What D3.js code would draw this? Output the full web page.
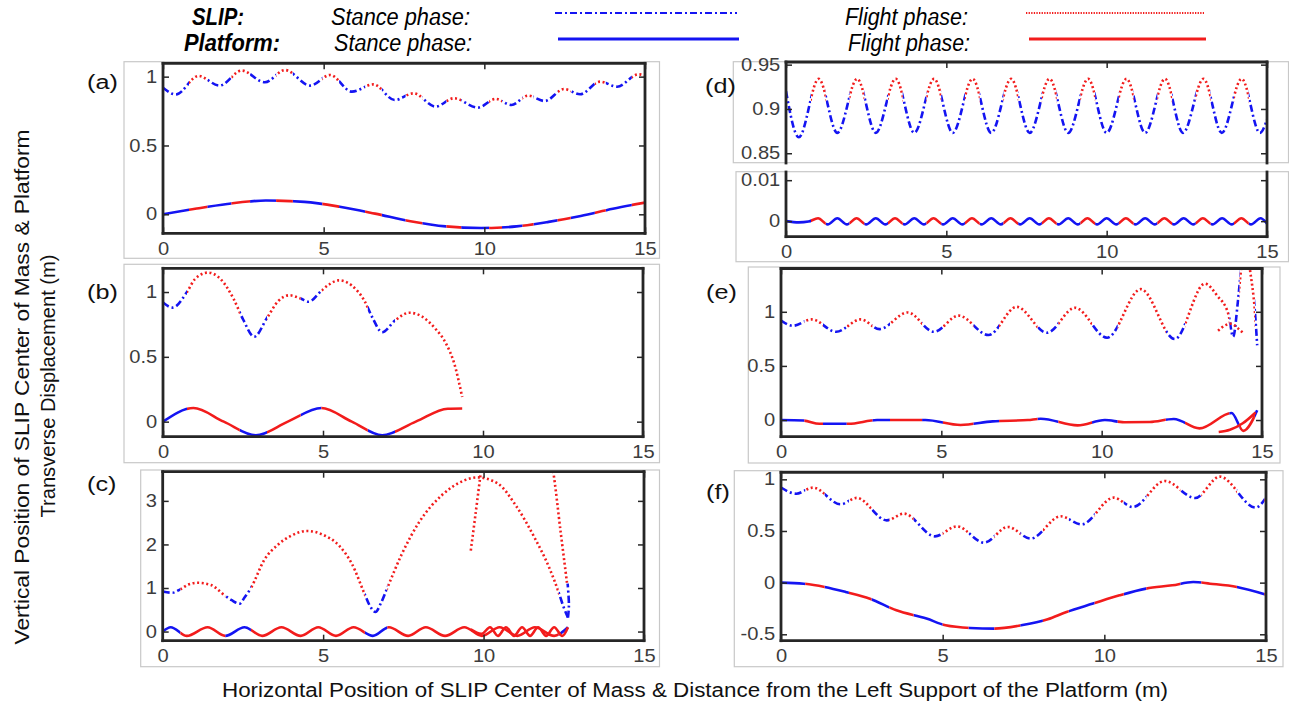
<!DOCTYPE html>
<html>
<head>
<meta charset="utf-8">
<script src="https://cdn.jsdelivr.net/npm/d3@7"></script>
<style>
  body { margin: 0; background: #fff; }
  svg { display: block; }
  text { font-family: "Liberation Sans", Arial, sans-serif; }
</style>
</head>
<body>
<script>
// SLIP vs platform, six simulation cases

const xTickVals = [0, 5, 10, 15]

// (a)
const slipA = [[0, 0.92], [0.4, 0.87], [1.1, 1.005], [1.76, 0.935], [2.45, 1.044], [3.17, 0.959], [3.8, 1.048], [4.58, 0.935], [5.2, 1.012], [5.88, 0.891], [6.55, 0.944], [7.21, 0.83], [7.8, 0.879], [8.48, 0.782], [9.05, 0.843], [9.8, 0.775], [10.35, 0.838], [10.84, 0.794], [11.36, 0.862], [11.88, 0.823], [12.48, 0.91], [12.98, 0.872], [13.6, 0.964], [14.13, 0.927], [14.8, 1.017], [15, 1.007]]
const platA = [[0, 0], [1, 0.04], [2, 0.075], [3.2, 0.1], [4.4, 0.09], [5.5, 0.055], [6.6, 0.005], [7.7, -0.05], [8.8, -0.088], [9.9, -0.1], [11, -0.088], [12, -0.055], [13, -0.012], [14, 0.04], [15, 0.085]]
const flightA = [[0.81, 1.38], [2.13, 2.71], [3.52, 4.04], [4.96, 5.48], [6.29, 6.81], [7.55, 8.07], [8.82, 9.28], [10.15, 10.55], [11.19, 11.53], [12.28, 12.69], [13.44, 13.78], [14.59, 15]]
const yTicksA = [0, 0.5, 1]

// (b)
const slipB = [[0, 0.92], [0.3, 0.88], [0.75, 1.0], [1.0, 1.1], [1.4, 1.15], [1.8, 1.1], [2.2, 0.95], [2.5, 0.79], [2.85, 0.655], [3.25, 0.8], [3.6, 0.93], [3.95, 0.975], [4.3, 0.95], [4.55, 0.925], [4.95, 1.01], [5.2, 1.06], [5.5, 1.09], [5.9, 1.05], [6.3, 0.93], [6.55, 0.8], [6.85, 0.69], [7.25, 0.78], [7.7, 0.84], [8.1, 0.81], [8.5, 0.72], [8.85, 0.6], [9.1, 0.45], [9.35, 0.19]]
const platB = [[0, 0], [0.95, 0.105], [1.9, 0.0], [2.9, -0.105], [3.9, 0.0], [4.95, 0.105], [5.9, 0.0], [6.85, -0.105], [7.9, 0.0], [8.9, 0.1], [9.35, 0.102]]
const flightB = [[0.75, 2.4], [3.25, 4.3], [4.95, 6.4], [7.25, 9.4]]
const yTicksB = [0, 0.5, 1]

// (c)
const slipC = [[0, 0.92], [0.3, 0.89], [0.55, 0.97], [0.8, 1.08], [1.1, 1.12], [1.5, 1.07], [1.95, 0.82], [2.15, 0.72], [2.4, 0.64], [2.55, 0.78], [2.75, 1.0], [3.17, 1.65], [3.6, 2.0], [4.0, 2.2], [4.5, 2.31], [5.0, 2.22], [5.5, 1.97], [5.9, 1.55], [6.3, 0.85], [6.45, 0.6], [6.63, 0.45], [6.8, 0.65], [7.0, 1.0], [7.44, 1.76], [8.0, 2.52], [8.7, 3.13], [9.4, 3.47], [9.8, 3.54], [10.44, 3.4], [11.0, 2.9], [11.6, 2.14], [12.05, 1.46], [12.34, 0.9], [12.5, 0.55], [12.63, 0.32]]
const slipCRebound = [[12.63, 0.32], [12.66, 0.6], [12.62, 1.1]]
const slipCFlightUp = [[12.6, 1.12], [12.4, 2.3], [12.17, 3.67], [12.1, 3.9]]
const slipCFlightDown = [[9.95, 3.9], [9.92, 3.7], [9.75, 2.7], [9.6, 1.85]]
const platC = [[0, 0], [0.25, 0.1], [0.75, -0.1], [1.4, 0.1], [1.95, -0.1], [2.55, 0.1], [3.1, -0.1], [3.7, 0.1], [4.3, -0.1], [4.85, 0.1], [5.4, -0.1], [5.95, 0.1], [6.55, -0.1], [7.05, 0.1], [7.65, -0.1], [8.2, 0.1], [8.8, -0.1], [9.4, 0.1], [9.95, -0.1], [10.5, 0.1], [11.05, -0.1], [11.6, 0.1], [12.2, -0.1], [12.63, 0.1]]
const platCBack = [[12.63, 0.1], [12.45, -0.1], [12.2, 0.1], [11.95, -0.1], [11.7, 0.1], [11.45, -0.1], [11.2, 0.1], [10.95, -0.1], [10.7, 0.1], [10.45, -0.1], [10.2, 0.1], [9.95, -0.05], [9.6, 0.05]]
const flightC = [[0.55, 1.95], [2.75, 6.3], [7.0, 12.34]]
const yTicksC = [0, 1, 2, 3]

// (d)
const slipD = [[0, 0.92], [0.4, 0.868], [1.02, 0.934], [1.6, 0.873], [2.22, 0.934], [2.8, 0.873], [3.42, 0.934], [4.0, 0.873], [4.62, 0.934], [5.2, 0.873], [5.82, 0.934], [6.4, 0.873], [7.02, 0.934], [7.6, 0.873], [8.22, 0.934], [8.8, 0.873], [9.42, 0.934], [10.0, 0.873], [10.62, 0.934], [11.2, 0.873], [11.82, 0.934], [12.38, 0.873], [13.02, 0.934], [13.59, 0.873], [14.21, 0.934], [14.78, 0.873], [15, 0.888]]
const platD = [[0, 0], [0.4, -0.0003], [0.7, -0.0001], [1.0, 0.0007], [1.3, -0.0008], [1.6, 0.0007], [1.9, -0.0008], [2.2, 0.0007], [2.5, -0.0008], [2.8, 0.0007], [3.1, -0.0008], [3.4, 0.0007], [3.7, -0.0008], [4.0, 0.0007], [4.3, -0.0008], [4.6, 0.0007], [4.9, -0.0008], [5.2, 0.0007], [5.5, -0.0008], [5.8, 0.0007], [6.1, -0.0008], [6.4, 0.0007], [6.7, -0.0008], [7.0, 0.0007], [7.3, -0.0008], [7.6, 0.0007], [7.9, -0.0008], [8.2, 0.0007], [8.5, -0.0008], [8.8, 0.0007], [9.1, -0.0008], [9.4, 0.0007], [9.7, -0.0008], [10.0, 0.0007], [10.3, -0.0008], [10.6, 0.0007], [10.9, -0.0008], [11.2, 0.0007], [11.5, -0.0008], [11.8, 0.0007], [12.1, -0.0008], [12.4, 0.0007], [12.7, -0.0008], [13.0, 0.0007], [13.3, -0.0008], [13.6, 0.0007], [13.9, -0.0008], [14.2, 0.0007], [14.5, -0.0008], [14.8, 0.0007], [15, -0.0006]]
const flightD = [[0.78, 1.24], [1.98, 2.44], [3.18, 3.64], [4.38, 4.84], [5.58, 6.04], [6.78, 7.24], [7.98, 8.44], [9.18, 9.64], [10.38, 10.84], [11.58, 12.04], [12.78, 13.24], [13.97, 14.43]]
const yTicksDUp = [0.85, 0.9, 0.95]
const yTicksDLow = [0, 0.01]

// (e)
const slipE = [[0, 0.92], [0.37, 0.871], [0.96, 0.93], [1.72, 0.815], [2.49, 0.93], [3.07, 0.84], [3.95, 0.994], [4.77, 0.815], [5.54, 0.965], [6.47, 0.785], [7.35, 1.046], [8.29, 0.806], [9.17, 1.037], [10.17, 0.76], [11.22, 1.209], [12.28, 0.748], [13.22, 1.26], [13.6, 1.15], [13.95, 0.98], [14.1, 0.77], [14.25, 1.1], [14.35, 1.4], [14.48, 1.7], [14.62, 1.4], [14.78, 1.0], [14.85, 0.69]]
const slipEBranch = [[13.63, 0.825], [13.85, 0.875], [14.04, 0.89], [14.2, 0.86], [14.39, 0.81]]
const platE = [[0, 0], [0.7, -0.005], [1.2, -0.035], [2.1, -0.035], [3.0, 0], [4.5, 0], [5.6, -0.046], [6.6, -0.012], [7.7, 0.0], [8.1, 0.012], [9.25, -0.049], [10.1, 0.0], [10.7, -0.02], [11.5, -0.018], [12.25, 0.01], [13.05, -0.077], [14.05, 0.065], [14.42, -0.1], [14.85, 0.09]]
const platEBranch = [[13.65, -0.11], [14.0, -0.09], [14.4, -0.03], [14.8, 0.07]]
const flightE = [[0.73, 1.31], [2.05, 2.85], [3.4, 4.4], [5.05, 6.0], [6.8, 8.0], [8.65, 9.7], [10.5, 12.0], [12.6, 13.98], [14.3, 14.78]]
const yTicksE = [0, 0.5, 1]

// (f)
const slipF = [[0, 0.92], [0.47, 0.861], [0.99, 0.92], [1.84, 0.758], [2.34, 0.82], [3.27, 0.603], [3.8, 0.668], [4.76, 0.448], [5.44, 0.545], [6.28, 0.387], [7.02, 0.539], [7.72, 0.426], [8.65, 0.642], [9.3, 0.564], [10.29, 0.823], [10.88, 0.732], [11.87, 0.984], [12.81, 0.819], [13.57, 1.026], [14.68, 0.726], [15, 0.823]]
const platF = [[0, 0], [0.7, -0.01], [1.35, -0.042], [2.0, -0.09], [2.75, -0.155], [3.57, -0.268], [4.5, -0.348], [5.09, -0.413], [5.85, -0.439], [6.6, -0.445], [7.43, -0.413], [8.25, -0.355], [8.83, -0.284], [9.65, -0.203], [10.47, -0.123], [11.29, -0.058], [12.1, -0.026], [12.75, 0.006], [13.27, -0.01], [14.1, -0.042], [15, -0.116]]
const flightF = [[0.75, 1.35], [2.1, 2.8], [3.35, 4.1], [5.0, 5.8], [6.6, 7.4], [8.1, 8.9], [9.7, 10.6], [11.3, 12.35], [13.0, 14.1], [14.95, 15]]
const yTicksF = [-0.5, 0, 0.5, 1]

// ---------------------------------------------------------------

const W = 1289, H = 707
const BLUE = '#1414f2', RED = '#f21c1c', AXIS = '#262626'

const svg = d3.select('body').append('svg').attr('width', W).attr('height', H)
const defs = svg.append('defs')

const lineStyle = {
  slip_s: { stroke: BLUE, dash: '7,3,2,3' },
  slip_f: { stroke: RED, dash: '2,2.6' },
  plat_s: { stroke: BLUE, dash: null },
  plat_f: { stroke: RED, dash: null }
}

// panels: outer crop box, axes frame [x0, x1, y0, y1]
const panels = [
  { label: '(a)', labelAt: [87, 82], box: [124, 61.7, 659.5, 258.3], frame: [163, 645, 63.3, 233.3],
    yDomain: [-0.138, 1.097], yTicks: yTicksA, sides: 'tblr', xLabels: true,
    traces: [{ kind: 'slip', pts: slipA, flight: flightA }, { kind: 'plat', pts: platA, flight: flightA }] },
  { label: '(b)', labelAt: [87, 292], box: [124, 264.3, 659.5, 462.7], frame: [163, 643, 268.3, 436.7],
    yDomain: [-0.116, 1.183], yTicks: yTicksB, sides: 'tblr', xLabels: true,
    traces: [{ kind: 'slip', pts: slipB, flight: flightB }, { kind: 'plat', pts: platB, flight: flightB }] },
  { label: '(c)', labelAt: [87, 484], box: [140.7, 470, 659.5, 666.7], frame: [162.7, 644, 471.7, 640.7],
    yDomain: [-0.21, 3.67], yTicks: yTicksC, sides: 'tblr', xLabels: true,
    traces: [
      { kind: 'slip', pts: slipC, flight: flightC },
      { kind: 'slip', pts: slipCRebound, phase: 's' },
      { kind: 'slip', pts: slipCFlightUp, phase: 'f' },
      { kind: 'slip', pts: slipCFlightDown, phase: 'f' },
      { kind: 'plat', pts: platC, flight: flightC },
      { kind: 'plat', pts: platCBack, phase: 'f' }
    ] },
  { label: '(d)', labelAt: [705, 86], box: [733.3, 61.7, 1288.5, 162.7], frame: [786, 1267, 62, 163],
    yDomain: [0.839, 0.953], yTicks: yTicksDUp, sides: 'tlr', xLabels: false,
    traces: [{ kind: 'slip', pts: slipD, flight: flightD }] },
  { label: '', labelAt: [0, 0], box: [736, 171.7, 1288.5, 261.7], frame: [786, 1267, 172, 236.7],
    yDomain: [-0.0038, 0.012], yTicks: yTicksDLow, sides: 'blr', xLabels: true,
    traces: [{ kind: 'plat', pts: platD, flight: flightD }] },
  { label: '(e)', labelAt: [706, 292], box: [748.3, 267, 1280, 463], frame: [781, 1262, 268.5, 436.7],
    yDomain: [-0.154, 1.4], yTicks: yTicksE, sides: 'tblr', xLabels: true,
    traces: [
      { kind: 'slip', pts: slipE, flight: flightE },
      { kind: 'slip', pts: slipEBranch, phase: 'f' },
      { kind: 'plat', pts: platE, flight: flightE },
      { kind: 'plat', pts: platEBranch, phase: 'f' }
    ] },
  { label: '(f)', labelAt: [706, 492], box: [734.3, 470.7, 1283, 666.7], frame: [781, 1266, 472.3, 640.7],
    yDomain: [-0.562, 1.068], yTicks: yTicksF, sides: 'tblr', xLabels: true,
    traces: [{ kind: 'slip', pts: slipF, flight: flightF }, { kind: 'plat', pts: platF, flight: flightF }] }
]

// stance = everything that is not flight
function stanceOf(flight) {
  const out = []
  let s = -1
  flight.forEach(([a, b]) => { out.push([s, a]); s = b })
  out.push([s, 16])
  return out
}

function styleTicks(sel, showLabels) {
  sel.select('.domain').remove()
  sel.selectAll('line').attr('stroke', AXIS).attr('stroke-width', 1.5)
  if (showLabels) {
    sel.selectAll('text')
      .attr('font-size', 17.5)
      .attr('fill', '#3c3c3c')
      .attr('font-family', '"Liberation Sans", Arial, sans-serif')
      .attr('transform', 'scale(1.15,1)')
  } else {
    sel.selectAll('text').remove()
  }
}

panels.forEach((p, pi) => {
  const [fx0, fx1, fy0, fy1] = p.frame
  const xs = d3.scaleLinear().domain([0, 15]).range([fx0, fx1])
  const ys = d3.scaleLinear().domain(p.yDomain).range([fy1, fy0])
  const g = svg.append('g')

  // light crop box around each panel
  g.append('rect')
    .attr('x', p.box[0]).attr('y', p.box[1])
    .attr('width', p.box[2] - p.box[0]).attr('height', p.box[3] - p.box[1])
    .attr('fill', 'none').attr('stroke', '#c8c8c8').attr('stroke-width', 1.2)

  const cid = 'plotclip' + pi
  defs.append('clipPath').attr('id', cid).append('rect')
    .attr('x', fx0).attr('y', fy0).attr('width', fx1 - fx0).attr('height', fy1 - fy0)
  const plot = g.append('g').attr('clip-path', 'url(#' + cid + ')')

  p.traces.forEach((tr, ti) => {
    const increasing = tr.pts.every((d, i) => i === 0 || d[0] > tr.pts[i - 1][0])
    const line = d3.line()
      .x(d => xs(d[0]))
      .y(d => ys(d[1]))
      .curve(increasing ? d3.curveMonotoneX : d3.curveCatmullRom.alpha(0.5))
    const path = line(tr.pts)
    const parts = tr.phase ? [[tr.phase, null]] : [['s', stanceOf(tr.flight)], ['f', tr.flight]]
    parts.forEach(([ph, iv]) => {
      let host = plot
      if (iv) {
        const id = 'ph' + pi + '_' + ti + '_' + ph
        const cp = defs.append('clipPath').attr('id', id)
        iv.forEach(([a, b]) => {
          cp.append('rect').attr('x', xs(a)).attr('y', 0).attr('width', xs(b) - xs(a)).attr('height', H)
        })
        host = plot.append('g').attr('clip-path', 'url(#' + id + ')')
      }
      const st = lineStyle[tr.kind + '_' + ph]
      host.append('path')
        .attr('d', path)
        .attr('fill', 'none')
        .attr('stroke', st.stroke)
        .attr('stroke-width', 2.6)
        .attr('stroke-dasharray', st.dash)
    })
  })

  // axes: ticks pointing inwards on every drawn side
  g.append('g').attr('transform', 'translate(' + fx0 + ',0)')
    .call(d3.axisLeft(ys).tickValues(p.yTicks).tickSize(-6).tickPadding(5).tickFormat(d => d))
    .call(s => styleTicks(s, true))
  g.append('g').attr('transform', 'translate(' + fx1 + ',0)')
    .call(d3.axisRight(ys).tickValues(p.yTicks).tickSize(-6))
    .call(s => styleTicks(s, false))
  if (p.sides.includes('b')) {
    g.append('g').attr('transform', 'translate(0,' + fy1 + ')')
      .call(d3.axisBottom(xs).tickValues(xTickVals).tickSize(-6).tickPadding(9).tickFormat(d => d))
      .call(s => styleTicks(s, p.xLabels))
  }
  if (p.sides.includes('t')) {
    g.append('g').attr('transform', 'translate(0,' + fy0 + ')')
      .call(d3.axisTop(xs).tickValues(xTickVals).tickSize(-6))
      .call(s => styleTicks(s, false))
  }

  // frame
  const edges = {
    t: [fx0, fy0, fx1, fy0], b: [fx0, fy1, fx1, fy1],
    l: [fx0, fy0, fx0, fy1], r: [fx1, fy0, fx1, fy1]
  }
  p.sides.split('').forEach(k => {
    const e = edges[k]
    g.append('line')
      .attr('x1', e[0]).attr('y1', e[1]).attr('x2', e[2]).attr('y2', e[3])
      .attr('stroke', AXIS).attr('stroke-width', 2.8).attr('stroke-linecap', 'square')
  })

  if (p.label) {
    g.append('text')
      .attr('transform', 'translate(' + p.labelAt[0] + ',' + p.labelAt[1] + ') scale(1.2,1)')
      .attr('dy', '0.35em')
      .attr('font-size', 21)
      .attr('fill', '#111')
      .text(p.label)
  }
})

// axis titles
svg.append('text')
  .attr('x', 222).attr('y', 697)
  .attr('font-size', 19.5).attr('fill', '#111')
  .attr('textLength', 946).attr('lengthAdjust', 'spacingAndGlyphs')
  .text('Horizontal Position of SLIP Center of Mass & Distance from the Left Support of the Platform (m)')

svg.append('text')
  .attr('transform', 'translate(22,387) rotate(-90)')
  .attr('text-anchor', 'middle').attr('dy', '0.35em')
  .attr('font-size', 19.5).attr('fill', '#111')
  .attr('textLength', 515).attr('lengthAdjust', 'spacingAndGlyphs')
  .text('Vertical Position of SLIP Center of Mass &  Platform')

svg.append('text')
  .attr('transform', 'translate(48,386) rotate(-90)')
  .attr('text-anchor', 'middle').attr('dy', '0.35em')
  .attr('font-size', 19.5).attr('fill', '#111')
  .attr('textLength', 263).attr('lengthAdjust', 'spacingAndGlyphs')
  .text('Transverse Displacement (m)')

// legend
const legendTexts = [
  { t: 'SLIP:', x: 192, y: 25, w: 52, bold: true },
  { t: 'Platform:', x: 184, y: 51, w: 96, bold: true },
  { t: 'Stance phase:', x: 331, y: 25, w: 139 },
  { t: 'Stance phase:', x: 334, y: 51, w: 138 },
  { t: 'Flight phase:', x: 845, y: 25, w: 123 },
  { t: 'Flight phase:', x: 848, y: 51, w: 122 }
]
legendTexts.forEach(d => {
  svg.append('text')
    .attr('x', d.x).attr('y', d.y)
    .attr('font-size', 23)
    .attr('font-style', 'italic')
    .attr('font-weight', d.bold ? 'bold' : 'normal')
    .attr('fill', '#000')
    .attr('textLength', d.w).attr('lengthAdjust', 'spacingAndGlyphs')
    .text(d.t)
})
const legendLines = [
  { x1: 555, x2: 737, y: 13, stroke: BLUE, dash: '7,3,2,3', w: 2 },
  { x1: 558, x2: 739, y: 39, stroke: BLUE, dash: null, w: 3 },
  { x1: 1026, x2: 1204, y: 13, stroke: RED, dash: '1.3,1.3', w: 2 },
  { x1: 1029, x2: 1206, y: 39, stroke: RED, dash: null, w: 3 }
]
legendLines.forEach(d => {
  svg.append('line')
    .attr('x1', d.x1).attr('x2', d.x2).attr('y1', d.y).attr('y2', d.y)
    .attr('stroke', d.stroke).attr('stroke-width', d.w)
    .attr('stroke-dasharray', d.dash)
})
</script>
</body>
</html>
